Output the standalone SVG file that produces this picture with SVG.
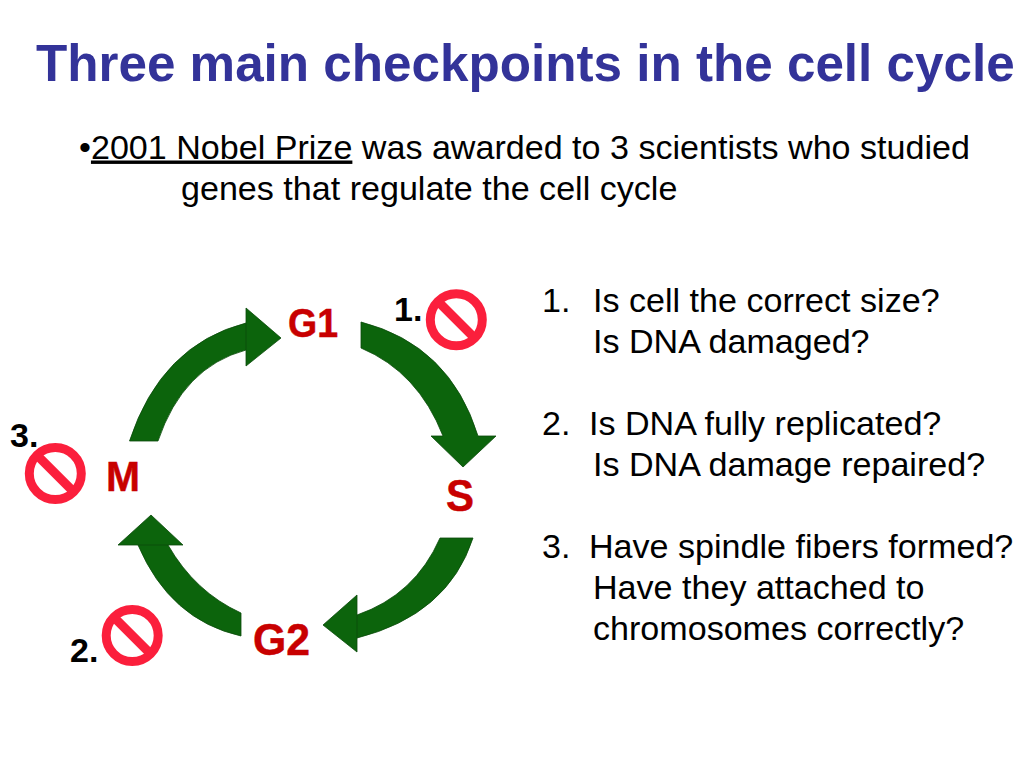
<svg xmlns="http://www.w3.org/2000/svg" width="1024" height="768" viewBox="0 0 1024 768">
<style>
text{font-family:"Liberation Sans",Arial,sans-serif}
.t{font-size:51.200px;font-weight:bold;fill:#333399}
.b{font-size:34.100px;fill:#000}
.n{font-size:34px;font-weight:bold;fill:#000}
.l{font-weight:bold;fill:#c80000;stroke:#c80000;stroke-width:.5px}
.a{fill:#0c640c;stroke:#0a4a0a;stroke-width:.8}
.no{fill:none;stroke:#fb1f3c;stroke-width:9}
</style>
<defs>
<g id="stop"><circle r="26" class="no"/><line x1="-18" y1="-18" x2="18" y2="18" class="no"/></g>
</defs>
<rect width="1024" height="768" fill="#fff"/>
<text class="t" x="36" y="81">Three main checkpoints in the cell cycle</text>
<text class="b" x="79" y="158.500">•<tspan text-decoration="underline">2001 Nobel Prize</tspan> was awarded to 3 scientists who studied</text>
<text class="b" x="181" y="199.500">genes that regulate the cell cycle</text>
<g id="questions">
<text class="b" x="542" y="311.500">1.</text><text class="b" x="593" y="311.500">Is cell the correct size?</text>
<text class="b" x="593" y="352.500">Is DNA damaged?</text>
<text class="b" x="542" y="434.500">2.</text><text class="b" x="589" y="434.500">Is DNA fully replicated?</text>
<text class="b" x="593" y="475.500">Is DNA damage repaired?</text>
<text class="b" x="542" y="557.500">3.</text><text class="b" x="589" y="557.500">Have spindle fibers formed?</text>
<text class="b" x="593" y="598.500">Have they attached to</text>
<text class="b" x="593" y="639.500">chromosomes correctly?</text>
</g>
<g id="connectors">
<path class="a" d="M129.500 441Q161 345 246 323V308L281 338L246 366V350Q183 367 158 441ZM246 323V350"/>
<path class="a" d="M361 322Q450 345 478 436H496L463 467L431 436H443Q418 372 361 348Z"/>
<path class="a" d="M440 538H473Q448 615 357 638V652L323 625L357 595V615Q415 595 440 538ZM357 615V638"/>
<path class="a" d="M241 613V636Q170 620 138 545H118L151 515L183 545H168Q195 592 241 613ZM138 545H168"/>
</g>
<g id="G1"><text class="l" x="288" y="337" font-size="40" textLength="50" lengthAdjust="spacingAndGlyphs">G1</text></g>
<g id="S"><text class="l" x="446" y="511" font-size="44" textLength="28" lengthAdjust="spacingAndGlyphs">S</text></g>
<g id="G2"><text class="l" x="253" y="655" font-size="44" textLength="57" lengthAdjust="spacingAndGlyphs">G2</text></g>
<g id="M"><text class="l" x="106" y="491" font-size="43" textLength="34" lengthAdjust="spacingAndGlyphs">M</text></g>
<g id="checkpoint1"><text class="n" x="394" y="321">1.</text><use href="#stop" x="456.300" y="319.700"/></g>
<g id="checkpoint2"><text class="n" x="70" y="662">2.</text><use href="#stop" x="132.200" y="635.500"/></g>
<g id="checkpoint3"><text class="n" x="10" y="447">3.</text><use href="#stop" x="55.300" y="473.500"/></g>
</svg>
